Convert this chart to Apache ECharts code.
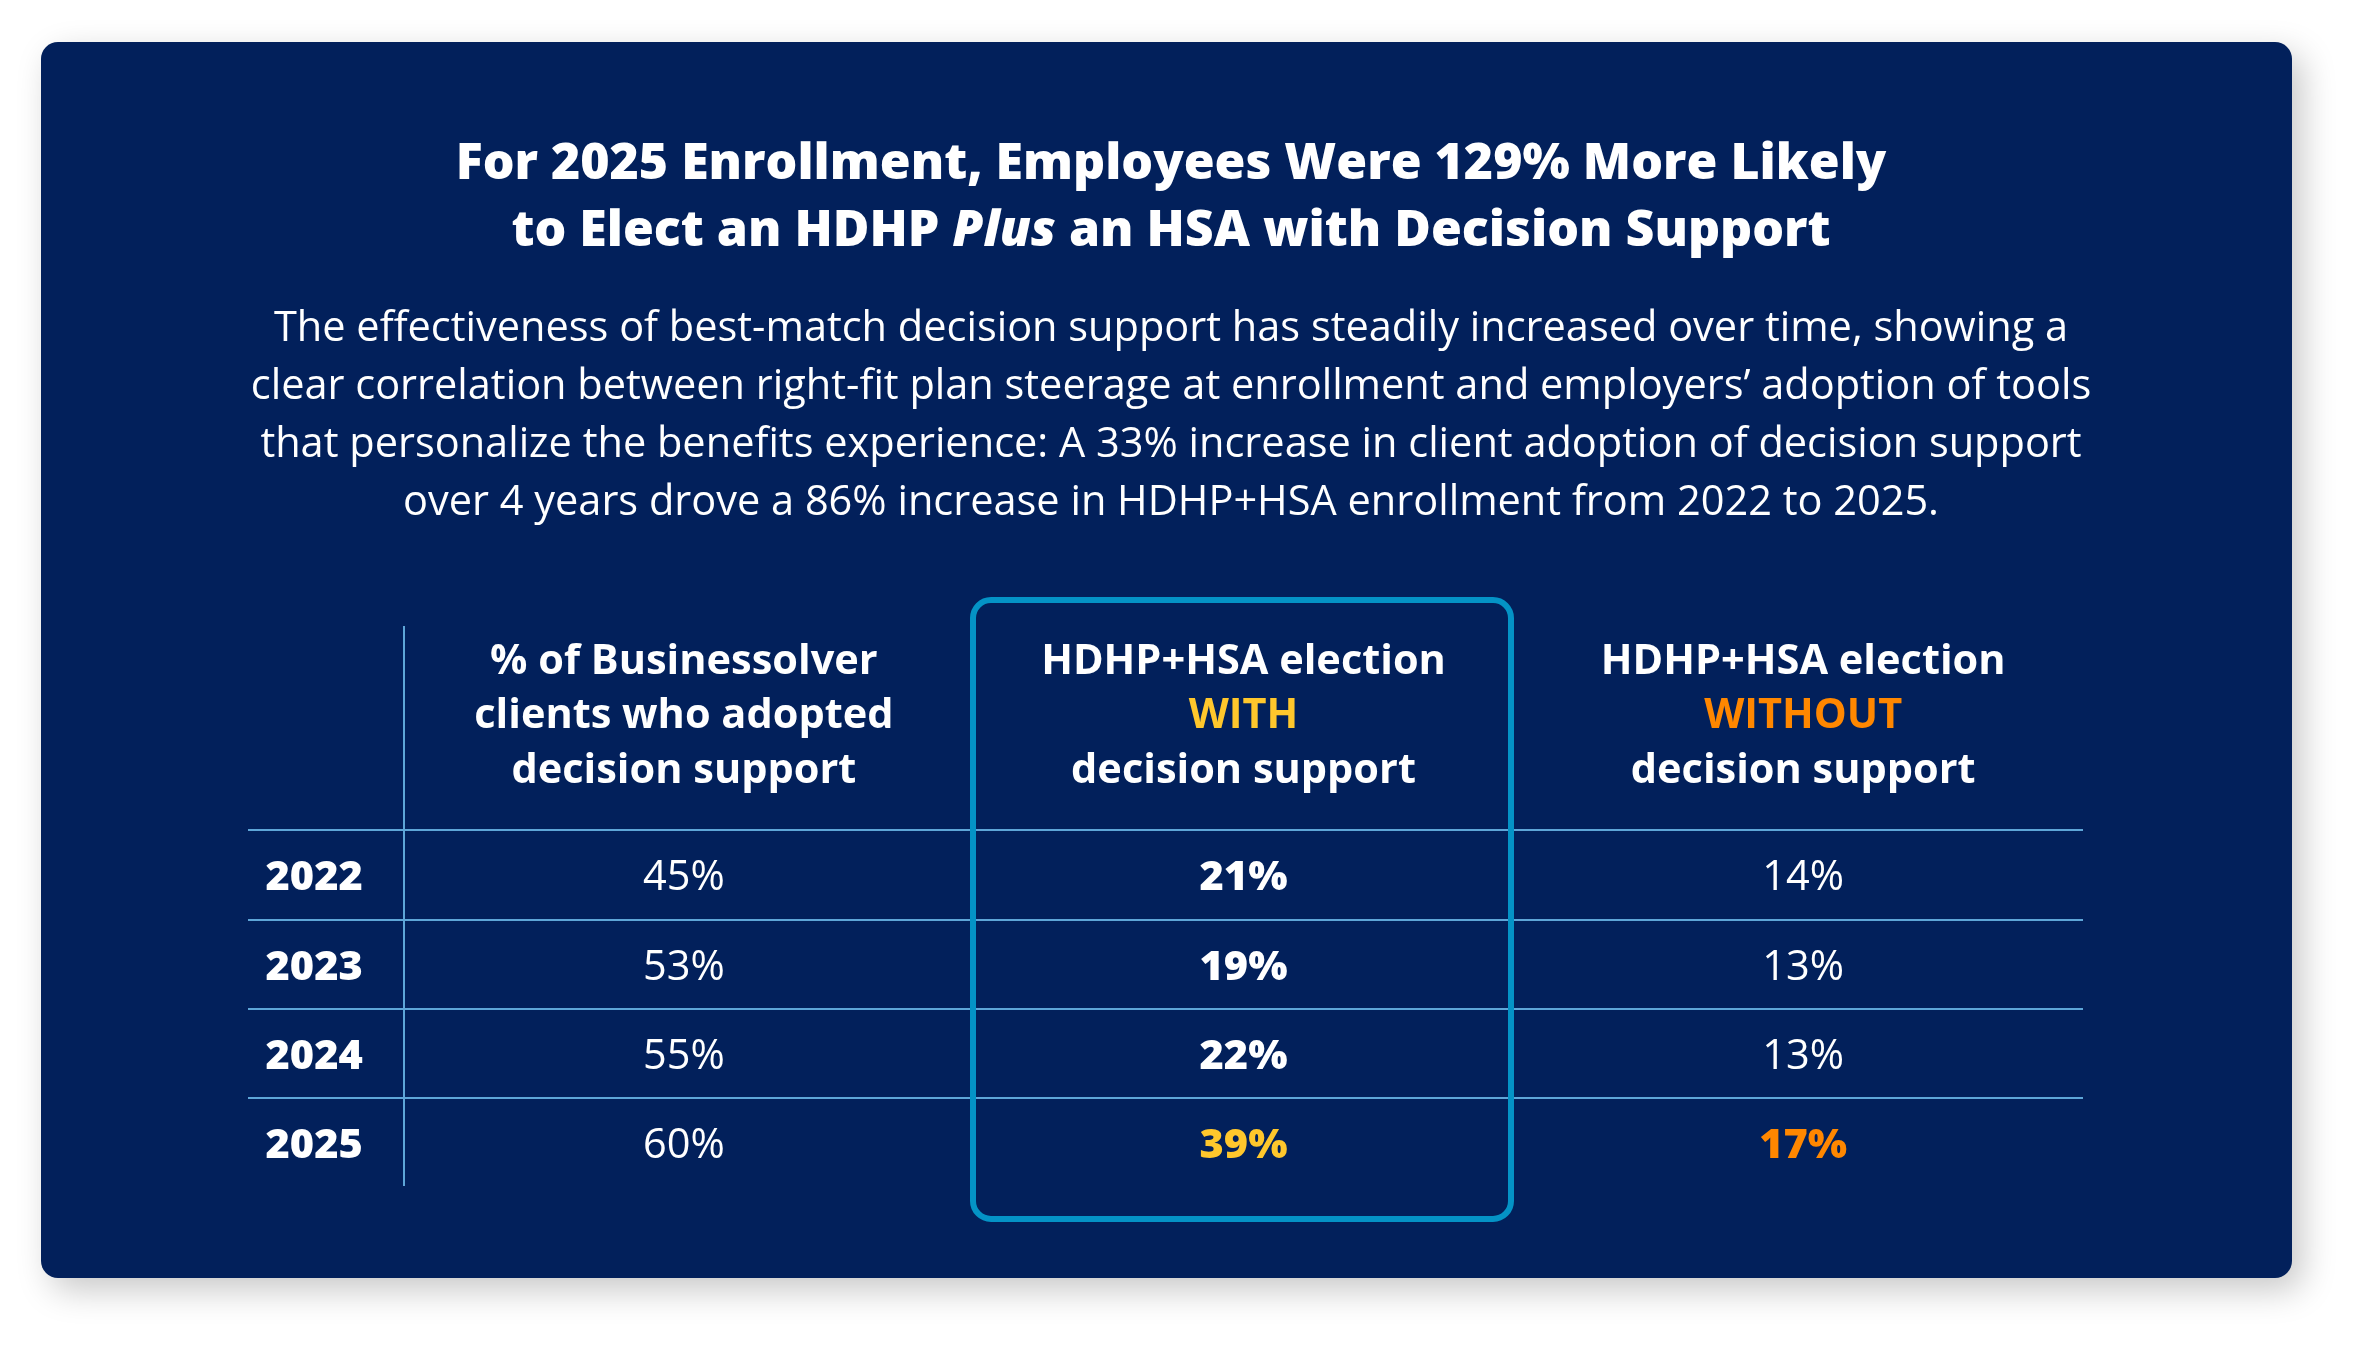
<!DOCTYPE html>
<html lang="en">
  <head>
    <meta charset="UTF-8" />
    <title>HDHP+HSA election with decision support</title>
    <script src="https://cdn.jsdelivr.net/npm/echarts@6/dist/echarts.min.js"></script>
    <style>
      html, body { margin: 0; padding: 0; background: #ffffff; }
      #chart { width: 2376px; height: 1348px; }
    </style>
  </head>
  <body>
    <div id="chart"></div>

    <script>
      // table data
      const years = ["2022", "2023", "2024", "2025"];
      const columns = ["adopted", "with", "without"];
      const adoptedPct = [45, 53, 55, 60];
      const withSupportPct = [21, 19, 22, 39];
      const withoutSupportPct = [14, 13, 13, 17];

      const headerLines = {
        adopted: ["% of Businessolver", "clients who adopted", "decision support"],
        with: ["HDHP+HSA election", "{y|WITH}", "decision support"],
        without: ["HDHP+HSA election", "{o|WITHOUT}", "decision support"],
      };

      const titleLines = [
        "{b|For 2025 Enrollment, Employees Were 129% More Likely}",
        "{b|to Elect an HDHP }{i|Plus}{b| an HSA with Decision Support}",
      ];
      const bodyLines = [
        "The effectiveness of best-match decision support has steadily increased over time, showing a",
        "clear correlation between right-fit plan steerage at enrollment and employers\u2019 adoption of tools",
        "that personalize the benefits experience: A 33% increase in client adoption of decision support",
        "over 4 years drove a 86% increase in HDHP+HSA enrollment from 2022 to 2025.",
      ];

      const FONT = "'Open Sans', 'Noto Sans', sans-serif";
      const NAVY = "#02205b";
      const RULE = "#5ea6d8";
      const BOX = "#0493c6";
      const YELLOW = "#ffc72c";
      const ORANGE = "#ff8700";
      const FS = 41.5;
      const CARD_CENTER = 1166;

      const chart = echarts.init(document.getElementById("chart"));

      const hiddenDot = {
        type: "scatter",
        silent: true,
        symbolSize: 1,
        itemStyle: { color: "rgba(0,0,0,0)", opacity: 1 },
        z: 5,
      };

      // one scatter series per column, labels only
      function valueSeries(col, values, bold, lastColor) {
        return Object.assign({}, hiddenDot, {
          xAxisIndex: 1,
          yAxisIndex: 1,
          data: values.map((v, i) => {
            const item = { value: [col, years[i], v] };
            if (lastColor && i === values.length - 1) {
              item.label = { color: lastColor, fontWeight: 800 };
            }
            return item;
          }),
          label: {
            show: true,
            position: "inside",
            offset: [0, 4],
            formatter: (p) => p.value[2] + "%",
            color: "#ffffff",
            opacity: 1,
            textBorderWidth: 0,
            fontFamily: FONT,
            fontSize: FS,
            fontWeight: bold ? 800 : 400,
          },
        });
      }

      // year labels in the first column
      const yearSeries = Object.assign({}, hiddenDot, {
        xAxisIndex: 0,
        yAxisIndex: 0,
        data: years.map((y) => [0, y]),
        label: {
          show: true,
          position: "right",
          distance: 17,
          offset: [0, 4],
          formatter: (p) => p.value[1],
          color: "#ffffff",
          opacity: 1,
          textBorderWidth: 0,
          fontFamily: FONT,
          fontSize: FS,
          fontWeight: 800,
        },
      });

      const yAxisBase = {
        type: "category",
        data: years,
        inverse: true,
        axisLine: { show: false },
        axisTick: { show: false },
        axisLabel: { show: false },
        splitLine: {
          show: true,
          showMinLine: true,
          showMaxLine: false,
          lineStyle: { color: RULE, width: 2 },
        },
      };

      chart.setOption({
        backgroundColor: "#ffffff",
        animation: false,
        title: [
          {
            text: titleLines.join("\n"),
            left: CARD_CENTER,
            top: 126,
            textAlign: "center",
            textStyle: {
              rich: {
                b: { color: "#fff", fontFamily: FONT, fontSize: 50, fontWeight: 800, lineHeight: 67 },
                i: { color: "#fff", fontFamily: FONT, fontSize: 50, fontWeight: 800, fontStyle: "italic", lineHeight: 67 },
              },
            },
          },
          {
            text: bodyLines.join("\n"),
            left: CARD_CENTER,
            top: 295,
            textAlign: "center",
            textStyle: {
              color: "#fff",
              fontFamily: FONT,
              fontSize: FS,
              fontWeight: 400,
              lineHeight: 58,
            },
          },
        ],
        grid: [
          { left: 248, width: 156, top: 830, bottom: 161 },
          { left: 404, right: 293, top: 830, bottom: 161 },
        ],
        xAxis: [
          { gridIndex: 0, type: "value", min: 0, max: 1, show: false },
          {
            gridIndex: 1,
            type: "category",
            data: columns,
            position: "top",
            axisLine: { show: false },
            axisTick: { show: false },
            splitLine: { show: false },
            axisLabel: {
              interval: 0,
              margin: 32,
              formatter: (c) => headerLines[c].join("\n"),
              color: "#fff",
              fontFamily: FONT,
              fontSize: FS,
              fontWeight: 700,
              lineHeight: 54.5,
              align: "center",
              rich: {
                y: { color: YELLOW, fontFamily: FONT, fontSize: FS, fontWeight: 700, lineHeight: 54.5 },
                o: { color: ORANGE, fontFamily: FONT, fontSize: FS, fontWeight: 700, lineHeight: 54.5 },
              },
            },
          },
        ],
        yAxis: [
          Object.assign({}, yAxisBase, { gridIndex: 0 }),
          Object.assign({}, yAxisBase, { gridIndex: 1 }),
        ],
        graphic: [
          {
            type: "rect",
            z: -10,
            silent: true,
            shape: { x: 41, y: 42, width: 2251, height: 1236, r: 17 },
            style: {
              fill: NAVY,
              shadowBlur: 34,
              shadowColor: "rgba(0,0,0,0.22)",
              shadowOffsetX: 10,
              shadowOffsetY: 12,
            },
          },
          {
            type: "line",
            silent: true,
            shape: { x1: 404, y1: 626, x2: 404, y2: 1186 },
            style: { stroke: RULE, lineWidth: 2 },
          },
          {
            type: "rect",
            silent: true,
            z: 10,
            shape: { x: 973, y: 600, width: 538, height: 619, r: 18 },
            style: { fill: "none", stroke: BOX, lineWidth: 6 },
          },
        ],
        series: [
          yearSeries,
          valueSeries("adopted", adoptedPct, false, null),
          valueSeries("with", withSupportPct, true, YELLOW),
          valueSeries("without", withoutSupportPct, false, ORANGE),
        ],
      });
    </script>
  </body>
</html>
